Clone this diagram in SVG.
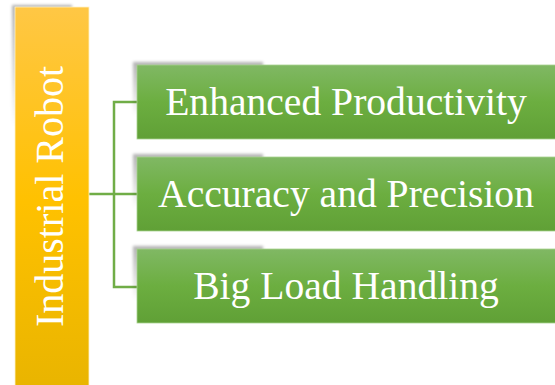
<svg xmlns="http://www.w3.org/2000/svg" width="555" height="385" viewBox="0 0 555 385">
  <defs>
    <linearGradient id="gold" x1="0" y1="0" x2="0" y2="1">
      <stop offset="0" stop-color="#ffc745"/>
      <stop offset="0.5" stop-color="#ffc100"/>
      <stop offset="1" stop-color="#e8b400"/>
    </linearGradient>
    <linearGradient id="leaf" x1="0" y1="0" x2="0" y2="1">
      <stop offset="0" stop-color="#80b864"/>
      <stop offset="0.5" stop-color="#6cae40"/>
      <stop offset="1" stop-color="#60a036"/>
    </linearGradient>
    <linearGradient id="shadeFade" x1="0" y1="0" x2="0" y2="1">
      <stop offset="0" stop-color="#000" stop-opacity="0.3"/>
      <stop offset="0.45" stop-color="#000" stop-opacity="0"/>
    </linearGradient>
    <filter id="soft" x="-20%" y="-20%" width="140%" height="140%">
      <feGaussianBlur stdDeviation="1.6"/>
    </filter>
    <style>
      .bar { fill: url(#gold); stroke: #fff3c8; stroke-width: 0.8; }
      .box { fill: url(#leaf); stroke: #a9d28f; stroke-width: 0.8; }
      .shade { fill: url(#shadeFade); filter: url(#soft); }
      .link { fill: none; stroke: #70ad47; stroke-width: 2.5; }
      .label { font-family: "Liberation Serif", "Times New Roman", serif; fill: #ffffff; text-anchor: middle; }
    </style>
  </defs>

  <rect width="555" height="385" fill="#ffffff"/>

  <!-- connectors -->
  <g id="connectors">
    <path class="link" d="M89 194 H137"/>
    <path class="link" d="M137 102 H114 V287 H137"/>
  </g>

  <!-- root node -->
  <g id="root">
    <rect class="shade" x="12" y="5" width="60" height="270"/>
    <rect class="bar" x="15" y="7" width="74" height="390"/>
    <text class="label" font-size="40" transform="translate(63 196.5) rotate(-90)" x="0" y="0">Industrial Robot</text>
  </g>

  <!-- child nodes -->
  <g id="productivity">
    <rect class="shade" x="133" y="62" width="130" height="120"/>
    <rect class="box" x="137" y="65" width="420" height="74"/>
    <text class="label" font-size="39.6" x="346" y="115">Enhanced Productivity</text>
  </g>

  <g id="accuracy">
    <rect class="shade" x="133" y="154" width="130" height="120"/>
    <rect class="box" x="137" y="157" width="420" height="74"/>
    <text class="label" font-size="39.6" x="346" y="207">Accuracy and Precision</text>
  </g>

  <g id="load">
    <rect class="shade" x="133" y="246" width="130" height="120"/>
    <rect class="box" x="137" y="249" width="420" height="74"/>
    <text class="label" font-size="39.6" x="346" y="299">Big Load Handling</text>
  </g>
</svg>
